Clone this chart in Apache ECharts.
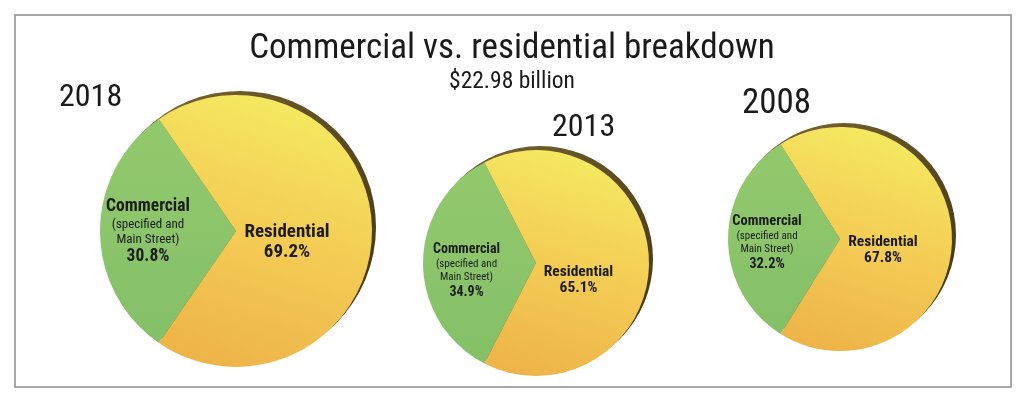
<!DOCTYPE html>
<html>
<head>
<meta charset="utf-8">
<script src="https://cdn.jsdelivr.net/npm/echarts@6/dist/echarts.min.js"></script>
<style>
html, body { margin: 0; padding: 0; background: #fff; }
#main { width: 1024px; height: 398px; }
</style>
</head>
<body>
<div id="main"></div>
<script>
var years = ['2018', '2013', '2008'];
var categories = ['Commercial', 'Residential'];
var commercialShare = [30.8, 34.9, 32.2];
var residentialShare = [69.2, 65.1, 67.8];
var commercialNote = ['(specified and', 'Main Street)'];
var chartTitle = 'Commercial vs. residential breakdown';
var chartSubtitle = '$22.98 billion';

var FONT = '"Roboto Condensed", "Liberation Sans Narrow", "DejaVu Sans Condensed", sans-serif';

// where each pie sits and how big its text is
var pieBox = [
  {cx: 236, cy: 231, r: 136, big: 17.5, res: 19, small: 13, lhB: 20, lhS: 15, lhR: 20, yearX: 54, yearY: 77, yearSize: 32, comOff: [-17, 1], resOff: [-20, 11]},
  {cx: 536, cy: 263, r: 113, big: 14, res: 15.5, small: 11, lhB: 17, lhS: 13, lhR: 16, yearX: 547, yearY: 107, yearSize: 32, comOff: [-10, 8], resOff: [-17, 17]},
  {cx: 840, cy: 239, r: 112, big: 14.5, res: 15.5, small: 11, lhB: 17, lhS: 13, lhR: 16, yearX: 737, yearY: 82, yearSize: 35, comOff: [-14, 4], resOff: [-16, 11]}
];

function yellowFill() {
  return new echarts.graphic.LinearGradient(0.7, 0, 0.3, 1, [
    {offset: 0, color: '#f5ec62'},
    {offset: 0.5, color: '#f4cd55'},
    {offset: 1, color: '#eeb449'}
  ]);
}
function greenFill() {
  return new echarts.graphic.LinearGradient(0, 0, 0, 1, [
    {offset: 0, color: '#93c96d'},
    {offset: 1, color: '#84c067'}
  ]);
}
function shadowFill() {
  return new echarts.graphic.LinearGradient(0, 0, 1, 1, [
    {offset: 0, color: '#7d6733'},
    {offset: 1, color: '#3e3112'}
  ]);
}

var titles = [{
  text: chartTitle,
  subtext: chartSubtitle,
  left: 'center',
  top: 26,
  itemGap: 2,
  textStyle: {fontFamily: FONT, fontSize: 35, fontWeight: 'normal', color: '#1a1a1a', lineHeight: 37},
  subtextStyle: {fontFamily: FONT, fontSize: 23.5, color: '#1a1a1a', lineHeight: 25}
}];
var series = [];

years.forEach(function (yr, i) {
  var b = pieBox[i];
  titles.push({
    text: yr,
    left: b.yearX,
    top: b.yearY,
    textStyle: {fontFamily: FONT, fontSize: b.yearSize, fontWeight: 'normal', color: '#1a1a1a'}
  });
  // dark rim behind the pie
  series.push({
    type: 'pie',
    silent: true,
    animation: false,
    center: [b.cx + 4, b.cy - 4],
    radius: b.r,
    label: {show: false},
    labelLine: {show: false},
    itemStyle: {color: shadowFill(), borderWidth: 0},
    data: [{value: 1}]
  });
  series.push({
    type: 'pie',
    name: yr,
    animation: false,
    center: [b.cx, b.cy],
    radius: b.r,
    clockwise: true,
    startAngle: 180 + commercialShare[i] * 1.8,
    itemStyle: {borderWidth: 0},
    labelLine: {show: false},
    label: {
      show: true,
      position: 'inside',
      color: '#1c1c1c',
      fontFamily: FONT,
      formatter: function (p) {
        if (p.dataIndex === 0) {
          return '{b|' + p.name + '}\n{s|' + commercialNote[0] + '}\n{s|' + commercialNote[1] + '}\n{b|' + p.value.toFixed(1) + '%}';
        }
        return '{r|' + p.name + '}\n{r|' + p.value.toFixed(1) + '%}';
      },
      rich: {
        b: {fontFamily: FONT, fontSize: b.big, fontWeight: 'bold', lineHeight: b.lhB, color: '#1c1c1c'},
        s: {fontFamily: FONT, fontSize: b.small, lineHeight: b.lhS, color: '#1c1c1c'},
        r: {fontFamily: FONT, fontSize: b.res, fontWeight: 'bold', lineHeight: b.lhR, color: '#1c1c1c'}
      }
    },
    labelLayout: function (p) {
      var off = p.dataIndex === 0 ? b.comOff : b.resOff;
      return {dx: off[0], dy: off[1]};
    },
    data: [
      {name: categories[0], value: commercialShare[i], itemStyle: {color: greenFill()}},
      {name: categories[1], value: residentialShare[i], itemStyle: {color: yellowFill()}}
    ]
  });
});

var myChart = echarts.init(document.getElementById('main'));
myChart.setOption({
  backgroundColor: '#ffffff',
  title: titles,
  graphic: [{
    type: 'rect',
    shape: {x: 15, y: 15, width: 996, height: 372},
    style: {fill: 'none', stroke: '#8c8c8c', lineWidth: 1.5},
    silent: true
  }],
  series: series
});
</script>
</body>
</html>
